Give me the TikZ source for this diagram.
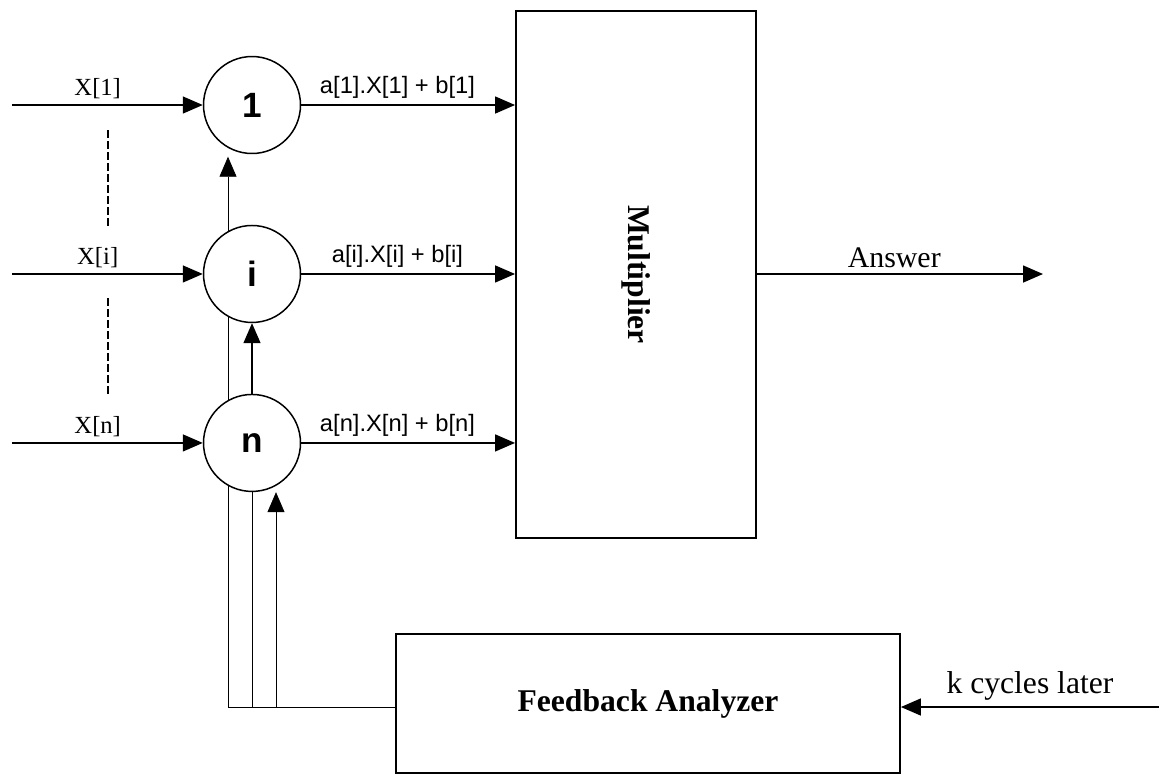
\documentclass[tikz,border=0pt]{standalone}
\usepackage{fontspec}
\setmainfont{Liberation Serif}
\setsansfont{Liberation Sans}
\usetikzlibrary{positioning}
\usetikzlibrary{backgrounds}
\usetikzlibrary{arrows.meta}
\tikzset{arr/.style={-{Triangle[length=0.4cm,width=0.34cm]}},
unit/.style={circle,draw,fill=white,minimum size=1.94cm,inner sep=0pt,font=\sffamily\bfseries\fontsize{20}{24}\selectfont},
lbl/.style={font=\fontsize{17}{20}\selectfont},
xlbl/.style={font=\fontsize{14}{17}\selectfont},
eq/.style={font=\sffamily\fontsize{13.5}{16}\selectfont},
blk/.style={draw,line width=1.1pt,font=\bfseries\fontsize{18}{22}\selectfont}}

\begin{document}
\begin{tikzpicture}[x=0.02cm,y=-0.02cm,line width=0.85pt]
\useasboundingbox (0,0) rectangle (1159,779);
\node (c1) at (252,105) [unit] {1};
\node (ci) [below of=c1, node distance=3.38cm, unit] {i};
\node (cn) [below of=ci, node distance=3.38cm, unit] {n};
\node (mult) at (636,274.5) [blk, minimum width=4.8cm, minimum height=10.54cm] {\rotatebox{-90}{Multiplier}};
\node (fb) at (648,703.5) [blk, minimum width=10.08cm, minimum height=2.78cm] {Feedback Analyzer};

\coordinate (ans) at (1043,274);
\coordinate (kin) at (1159,707);
\coordinate (b1) at (228,707);
\coordinate (b2) at (252,707);
\coordinate (b3) at (276,707);

\foreach \k in {1,i,n} {
\path (c\k.west) ++(-191,0) coordinate (x\k);
\draw[arr] (x\k) -- node[above,xlbl,pos=0.45] {X[\k]} (c\k);
\draw[arr] (c\k) -- node[above,eq,pos=0.45] {a[\k].X[\k] + b[\k]} (c\k -| mult.west);
}
\draw[dash pattern=on 0.16cm off 0.06cm] (108,130) -- (108,227);
\draw[dash pattern=on 0.16cm off 0.06cm] (108,298) -- (108,394);

\draw[arr] (mult.east |- ans) -- node[above,lbl,pos=0.48] {Answer} (ans);
\draw[arr] (kin) -- node[above,lbl,font=\fontsize{18}{21}\selectfont] {k cycles later} (kin -| fb.east);

\begin{scope}[on background layer]
\draw (kin -| fb.west) -- (b1);
\draw[arr, shorten >=1.4pt] (b1) -- (b1 |- c1.south);
\draw (b2) -- (cn);
\draw[arr] (b3) -- (b3 |- cn.south);
\end{scope}
\draw[arr] (cn) -- (ci);
\end{tikzpicture}
\end{document}
